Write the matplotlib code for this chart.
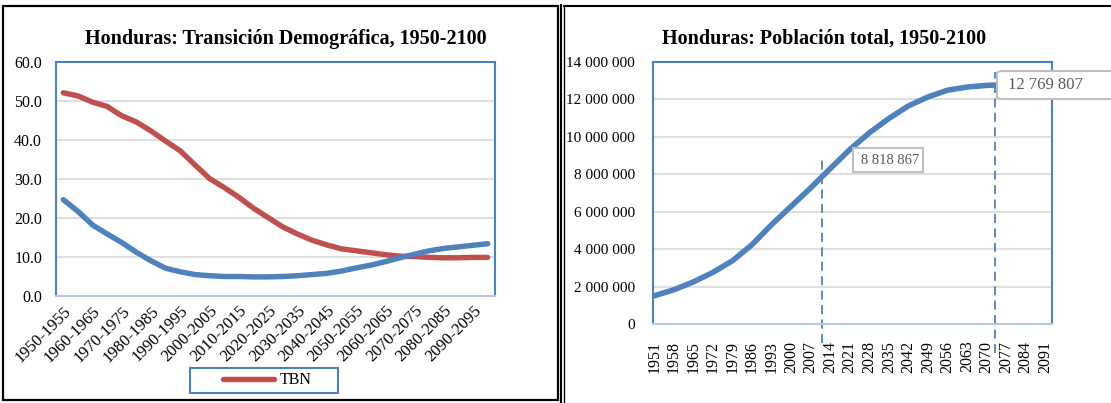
import matplotlib.pyplot as plt
from matplotlib.patches import Rectangle, FancyBboxPatch
from matplotlib.lines import Line2D
from matplotlib.ticker import FuncFormatter

plt.rcParams['font.family'] = ['Liberation Serif', 'DejaVu Serif']

RED = '#C0504D'
BLUE = '#4F81BD'
GRID = '#D9D9D9'

# quinquennial periods, left chart
periods = ['1950-1955', '1955-1960', '1960-1965', '1965-1970', '1970-1975',
           '1975-1980', '1980-1985', '1985-1990', '1990-1995', '1995-2000',
           '2000-2005', '2005-2010', '2010-2015', '2015-2020', '2020-2025',
           '2025-2030', '2030-2035', '2035-2040', '2040-2045', '2045-2050',
           '2050-2055', '2055-2060', '2060-2065', '2065-2070', '2070-2075',
           '2075-2080', '2080-2085', '2085-2090', '2090-2095', '2095-2100']
# birth rate (TBN) and death rate, per thousand
tbn = [52.1, 51.3, 49.7, 48.6, 46.2, 44.6, 42.3, 39.7, 37.2, 33.6,
       30.1, 27.8, 25.3, 22.5, 20.1, 17.7, 15.9, 14.3, 13.1, 12.1,
       11.6, 11.1, 10.6, 10.2, 10.1, 9.9, 9.8, 9.8, 9.9, 9.9]
tbm = [24.7, 21.7, 18.2, 15.9, 13.7, 11.2, 9.0, 7.1, 6.2, 5.5,
       5.2, 5.0, 5.0, 4.9, 4.9, 5.0, 5.2, 5.5, 5.8, 6.4,
       7.2, 7.9, 8.8, 9.8, 10.7, 11.6, 12.2, 12.6, 13.0, 13.4]

# total population, right chart
years = [1951, 1958, 1965, 1972, 1979, 1986, 1993, 2000, 2007, 2014,
         2021, 2028, 2035, 2042, 2049, 2056, 2063, 2070, 2073]
population = [1510000, 1830000, 2250000, 2760000, 3380000, 4240000,
              5310000, 6290000, 7270000, 8300000, 9320000, 10210000,
              10980000, 11650000, 12130000, 12490000, 12660000, 12750000,
              12769807]
year_ticks = list(range(1951, 2092, 7))
mark_year_1, mark_value_1 = 2011, 8818867
mark_year_2, mark_value_2 = 2073, 12769807


def spaced(v):
    return f'{int(v):,}'.replace(',', ' ')


fig = plt.figure(figsize=(11.11, 4.03), dpi=100)

# ---- left panel: demographic transition
ax1 = fig.add_axes([56 / 1111, 107 / 403, 439 / 1111, 234 / 403])
x = list(range(len(periods)))
ax1.plot(x, tbn, color=RED, lw=3.9, solid_capstyle='round', label='TBN')
ax1.plot(x, tbm, color=BLUE, lw=3.9, solid_capstyle='round')
ax1.set_xlim(-0.5, len(periods) - 0.5)
ax1.set_ylim(0, 60)
ax1.set_yticks(range(0, 61, 10))
ax1.yaxis.set_major_formatter(FuncFormatter(lambda v, p: f'{v:.1f}'))
ax1.set_xticks(x[::2])
ax1.set_xticklabels(periods[::2], rotation=45, ha='right', va='top',
                    rotation_mode='anchor')
ax1.tick_params(axis='y', length=0, pad=10, labelsize=11.5)
ax1.tick_params(axis='x', length=0, pad=5, labelsize=12)
ax1.grid(axis='y', color=GRID, lw=1.2)
ax1.set_axisbelow(True)
for side in ['left', 'right', 'top']:
    ax1.spines[side].set_color(BLUE)
    ax1.spines[side].set_linewidth(1.5)
ax1.spines['bottom'].set_color('#B8C7DC')
ax1.spines['bottom'].set_linewidth(1.5)

fig.text(286 / 1111, 1 - 39 / 403, 'Honduras: Transición Demográfica, 1950-2100',
         ha='center', va='center', fontsize=14.5, fontweight='bold')

# legend with a wide frame
fig.patches.append(Rectangle((190 / 1111, 10 / 403), 148 / 1111, 25 / 403,
                             transform=fig.transFigure, fill=False,
                             edgecolor=BLUE, lw=1.5))
fig.legend(handles=[Line2D([], [], color=RED, lw=3.9, solid_capstyle='round')],
           labels=['TBN'], loc='center', bbox_to_anchor=(267 / 1111, 22.5 / 403),
           frameon=False, fontsize=11.5, handlelength=3.2, handletextpad=0.35)

# ---- right panel: total population
ax2 = fig.add_axes([653 / 1111, 79 / 403, 399 / 1111, 262 / 403])
ax2.plot(years, population, color=BLUE, lw=4.0, solid_capstyle='round')
ax2.set_xlim(1950.5, 2093.5)
ax2.set_ylim(0, 14000000)
ax2.set_yticks(range(0, 14000001, 2000000))
ax2.yaxis.set_major_formatter(FuncFormatter(lambda v, p: spaced(v)))
ax2.set_xticks(year_ticks)
ax2.set_xticklabels([str(y) for y in year_ticks], rotation=90)
ax2.tick_params(axis='y', length=0, pad=13, labelsize=11)
ax2.tick_params(axis='x', length=0, pad=12, labelsize=11.5)
ax2.grid(axis='y', color=GRID, lw=1.2)
ax2.set_axisbelow(True)
for side in ['left', 'right', 'top']:
    ax2.spines[side].set_color(BLUE)
    ax2.spines[side].set_linewidth(1.5)
ax2.spines['bottom'].set_color('#B8C7DC')
ax2.spines['bottom'].set_linewidth(1.5)

ax2.plot([mark_year_1, mark_year_1], [-1000000, mark_value_1], color=BLUE,
         lw=1.3, ls=(0, (5, 3)), clip_on=False)
ax2.plot([mark_year_2, mark_year_2], [-1550000, 13480000], color=BLUE,
         lw=1.3, ls=(0, (5, 3)), clip_on=False)

# data label boxes
fig.patches.append(Rectangle((853 / 1111, 1 - 172 / 403), 70 / 1111, 24 / 403,
                             transform=fig.transFigure, fc='white',
                             ec='#BFBFBF', lw=1.5, zorder=5))
fig.text(890 / 1111, 1 - 160 / 403, spaced(mark_value_1), ha='center',
         va='center', fontsize=10.5, color='#595959', zorder=6)
fig.patches.append(FancyBboxPatch((997 / 1111, 1 - 99 / 403), 125 / 1111, 28 / 403,
                                  boxstyle='round,pad=0,rounding_size=0.006',
                                  transform=fig.transFigure, fc='white',
                                  ec='#BFBFBF', lw=1.5, zorder=5))
fig.text(1008 / 1111, 1 - 85 / 403, spaced(mark_value_2), ha='left',
         va='center', fontsize=12, color='#595959', zorder=6)

fig.text(824 / 1111, 1 - 39 / 403, 'Honduras: Población total, 1950-2100',
         ha='center', va='center', fontsize=14.5, fontweight='bold')

# ---- outer frames
fig.patches.append(Rectangle((3 / 1111, 3 / 403), 555 / 1111, 394 / 403,
                             transform=fig.transFigure, fill=False,
                             edgecolor='black', lw=1.6))
fig.add_artist(Line2D([561 / 1111, 561 / 1111], [0, 1 - 5 / 403], color='black', lw=1.5))
fig.add_artist(Line2D([564.5 / 1111, 564.5 / 1111], [0, 1 - 6 / 403], color='black', lw=1.0))
fig.add_artist(Line2D([564.5 / 1111, 1], [1 - 6 / 403, 1 - 6 / 403], color='black', lw=1.5))

fig.savefig('out.png', dpi=100)
